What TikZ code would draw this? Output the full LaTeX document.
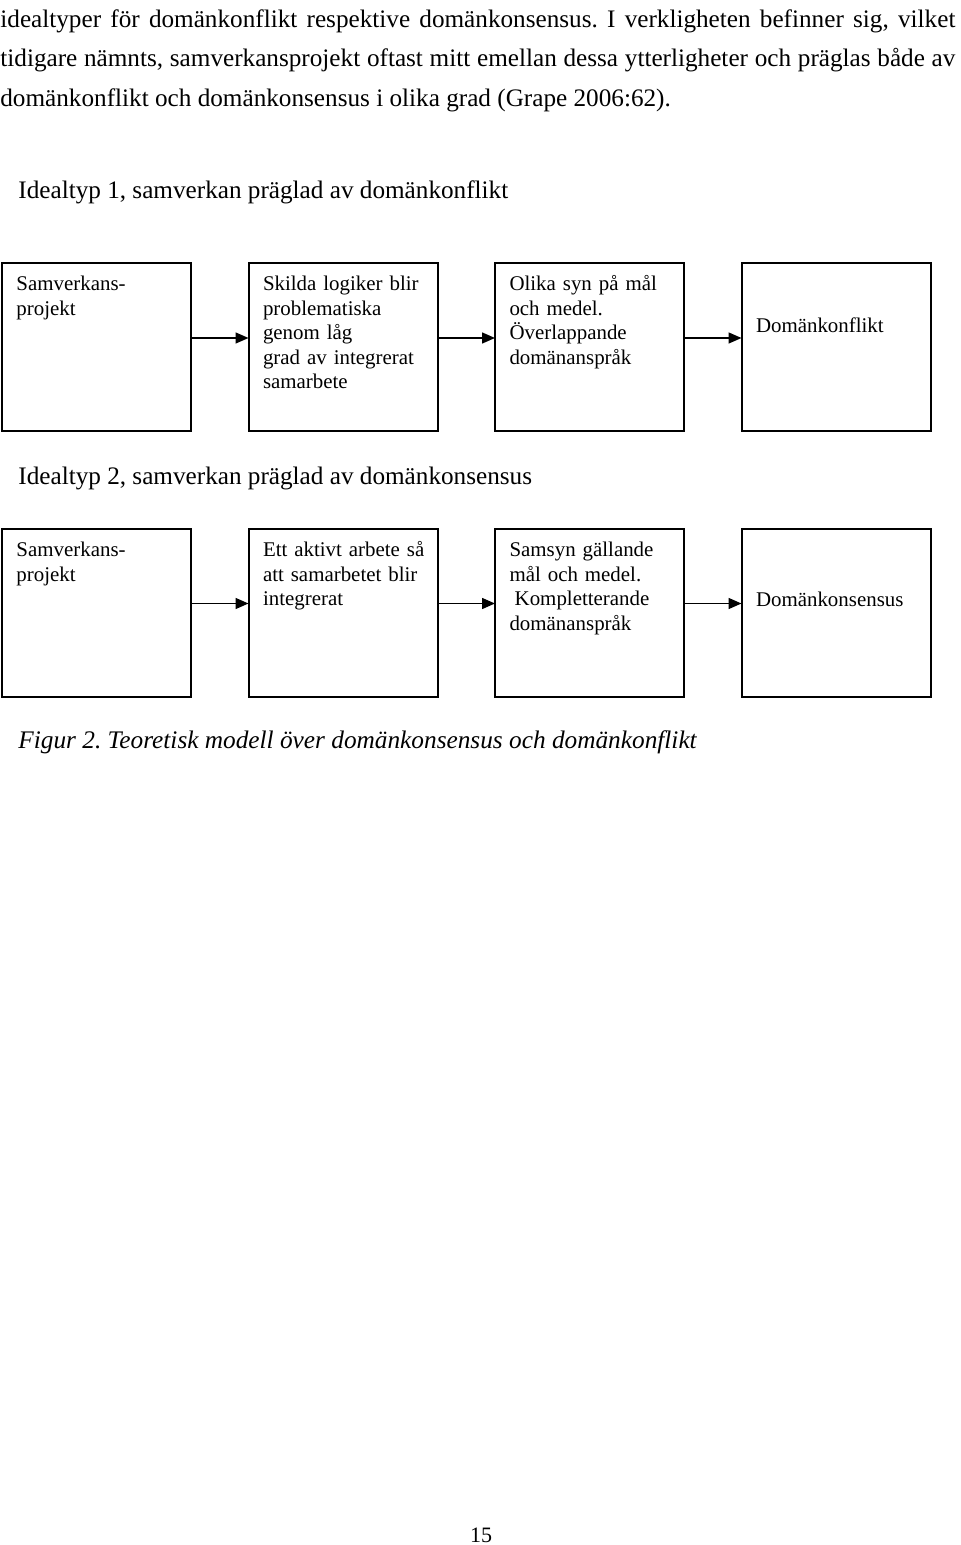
\documentclass[tikz,border=0pt]{standalone}
\usepackage{fontspec}
\setmainfont{Liberation Serif}
\usetikzlibrary{arrows.meta, positioning}

\begin{document}
\frenchspacing
\begin{tikzpicture}[
  x=0.5pt, y=-0.5pt,
  node distance=0pt and 28.75pt,
  every node/.style={inner sep=0pt},
  bodyline/.style={anchor=base west, font=\fontsize{12.6pt}{15pt}\selectfont},
  heading/.style={anchor=base west, font=\fontsize{12.6pt}{15pt}\selectfont},
  idealbox/.style={rectangle, draw=black, line width=1pt, outer sep=0pt,
              minimum width=94.5pt, text width=80pt, inner xsep=7.25pt, inner ysep=0pt,
              align=left, text height=14pt, text depth=70pt,
              font=\fontsize{10.45pt}{12.25pt}\selectfont},
  flow/.style={-{Triangle[length=6.5pt, width=5.5pt]}, line width=0.75pt},
]
  \useasboundingbox (0,0) rectangle (960,1545);

  % text above the figure
  \node[bodyline] (rad1) at (0,28) {\makebox[477.5pt][s]{idealtyper för domänkonflikt respektive domänkonsensus. I verkligheten befinner sig, vilket}};
  \node[bodyline] (rad2) at (0,67) {\makebox[477.5pt][s]{tidigare nämnts, samverkansprojekt oftast mitt emellan dessa ytterligheter och präglas både av}};
  \node[bodyline] (rad3) at (0,107) {domänkonflikt och domänkonsensus i olika grad (Grape 2006:62).};

  % idealtyp 1
  \node[heading] (rubrik1) at (18,199) {Idealtyp 1, samverkan präglad av domänkonflikt};
  \node[idealbox] at (96.5,347) (proj1) {Samverkans-\\projekt};
  \node[idealbox, right=of proj1] (logik) {Skilda logiker blir\\problematiska\\genom låg\\grad av integrerat\\samarbete};
  \node[idealbox, right=of logik] (olika) {Olika syn på mål\\och medel.\\Överlappande\\domänanspråk};
  \node[idealbox, right=of olika, text height=35pt, text depth=49pt] (konflikt) {Domänkonflikt};

  \draw[flow] ([yshift=4.5pt]proj1.east) -- ([yshift=4.5pt]logik.west);
  \draw[flow] ([yshift=4.5pt]logik.east) -- ([yshift=4.5pt]olika.west);
  \draw[flow] ([yshift=4.5pt]olika.east) -- ([yshift=4.5pt]konflikt.west);

  % idealtyp 2
  \node[heading] (rubrik2) at (18,484) {Idealtyp 2, samverkan präglad av domänkonsensus};
  \node[idealbox] at (96.5,612.5) (proj2) {Samverkans-\\projekt};
  \node[idealbox, right=of proj2] (aktivt) {\mbox{Ett aktivt arbete så}\\att samarbetet blir\\integrerat};
  \node[idealbox, right=of aktivt] (samsyn) {Samsyn gällande\\mål och medel.\\\hspace*{2.6pt}Kompletterande\\domänanspråk};
  \node[idealbox, right=of samsyn, text height=39pt, text depth=45pt] (konsensus) {Domänkonsensus};

  \draw[flow] ([yshift=4.5pt]proj2.east) -- ([yshift=4.5pt]aktivt.west);
  \draw[flow] ([yshift=4.5pt]aktivt.east) -- ([yshift=4.5pt]samsyn.west);
  \draw[flow] ([yshift=4.5pt]samsyn.east) -- ([yshift=4.5pt]konsensus.west);

  \node[heading, font=\fontsize{12.65pt}{15pt}\selectfont\itshape] (figurtext) at (18,748) {Figur 2. Teoretisk modell över domänkonsensus och domänkonflikt};

  \node[anchor=base, font=\fontsize{11pt}{13pt}\selectfont] (sidnr) at (481,1542) {15};
\end{tikzpicture}
\end{document}
